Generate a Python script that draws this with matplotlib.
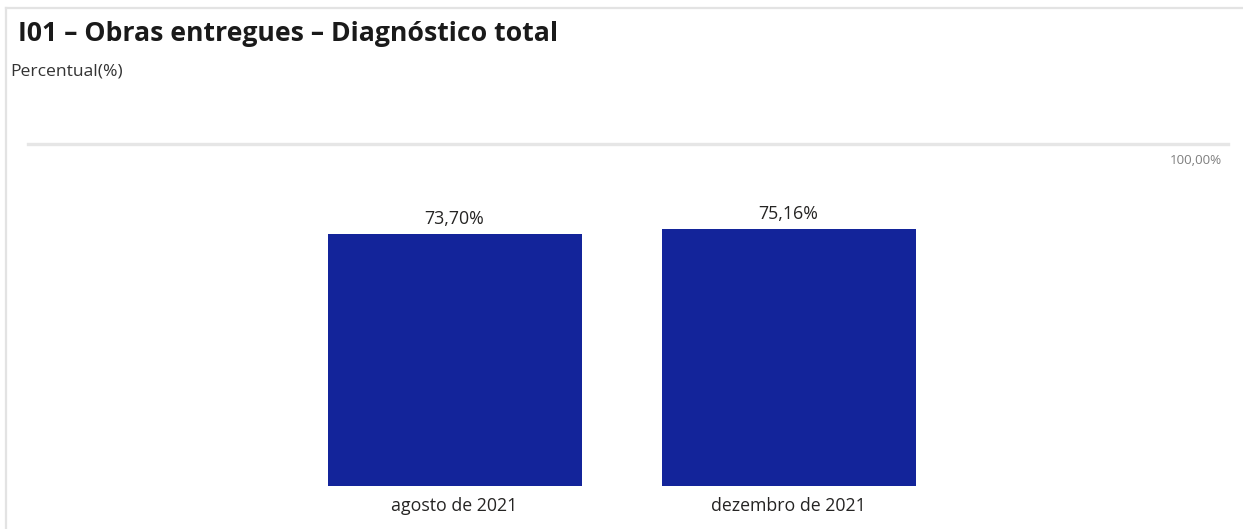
import matplotlib
matplotlib.use("Agg")
import matplotlib.pyplot as plt
from matplotlib.lines import Line2D

categories = ["agosto de 2021", "dezembro de 2021"]
values = [73.70, 75.16]
ymax = 100.0
max_label = "100,00%"
title = "I01 – Obras entregues – Diagnóstico total"
subtitle = "Percentual(%)"

W, H = 1243, 529
plt.rcParams['font.family'] = ['Open Sans', 'DejaVu Sans']
fig = plt.figure(figsize=(W / 100, H / 100), dpi=100)
fig.patch.set_facecolor("white")

# plot area in pixel coordinates
left_px, right_px = 28, 1228
top_px, base_px = 144, 486
ax = fig.add_axes([left_px / W, 1 - base_px / H,
                   (right_px - left_px) / W, (base_px - top_px) / H])

spacing = 334.0
x0_px = 454.5
xs = list(range(len(categories)))
ax.set_xlim((left_px - x0_px) / spacing, (right_px - x0_px) / spacing)
ax.set_ylim(0, ymax)

bars = ax.bar(xs, values, width=254 / spacing, color="#13249a", zorder=2)
ax.axhline(ymax, color="#e6e6e6", linewidth=2.4, zorder=1, clip_on=False)

for x, v in zip(xs, values):
    ax.text(x, v + 1.6, f"{v:.2f}%".replace(".", ","), ha="center", va="bottom",
            fontsize=12.8, color="#252423")

ax.set_xticks(xs)
ax.set_xticklabels(categories, fontsize=12.8, color="#252423")
ax.tick_params(axis="x", length=0, pad=8)
ax.set_yticks([])
for s in ax.spines.values():
    s.set_visible(False)
ax.patch.set_alpha(0)

# max value label under the reference line
fig.text(1222 / W, 1 - 160 / H, max_label, ha="right", va="center",
         fontsize=9.6, color="#7f7f7f")

# title and subtitle
fig.text(18 / W, 1 - 34 / H, title, ha="left", va="center",
         fontsize=19.2, fontweight="bold", color="#1a1a1a")
fig.text(10 / W, 1 - 72 / H, subtitle, ha="left", va="center",
         fontsize=12.6, color="#333333")

# panel border (top and left edges)
fig.add_artist(Line2D([6 / W, 1], [1 - 8 / H, 1 - 8 / H], color="#e3e3e3",
                      linewidth=1.6, transform=fig.transFigure))
fig.add_artist(Line2D([6 / W, 6 / W], [0, 1 - 8 / H], color="#e3e3e3",
                      linewidth=1.6, transform=fig.transFigure))

fig.savefig("out.png", dpi=100, facecolor="white")
